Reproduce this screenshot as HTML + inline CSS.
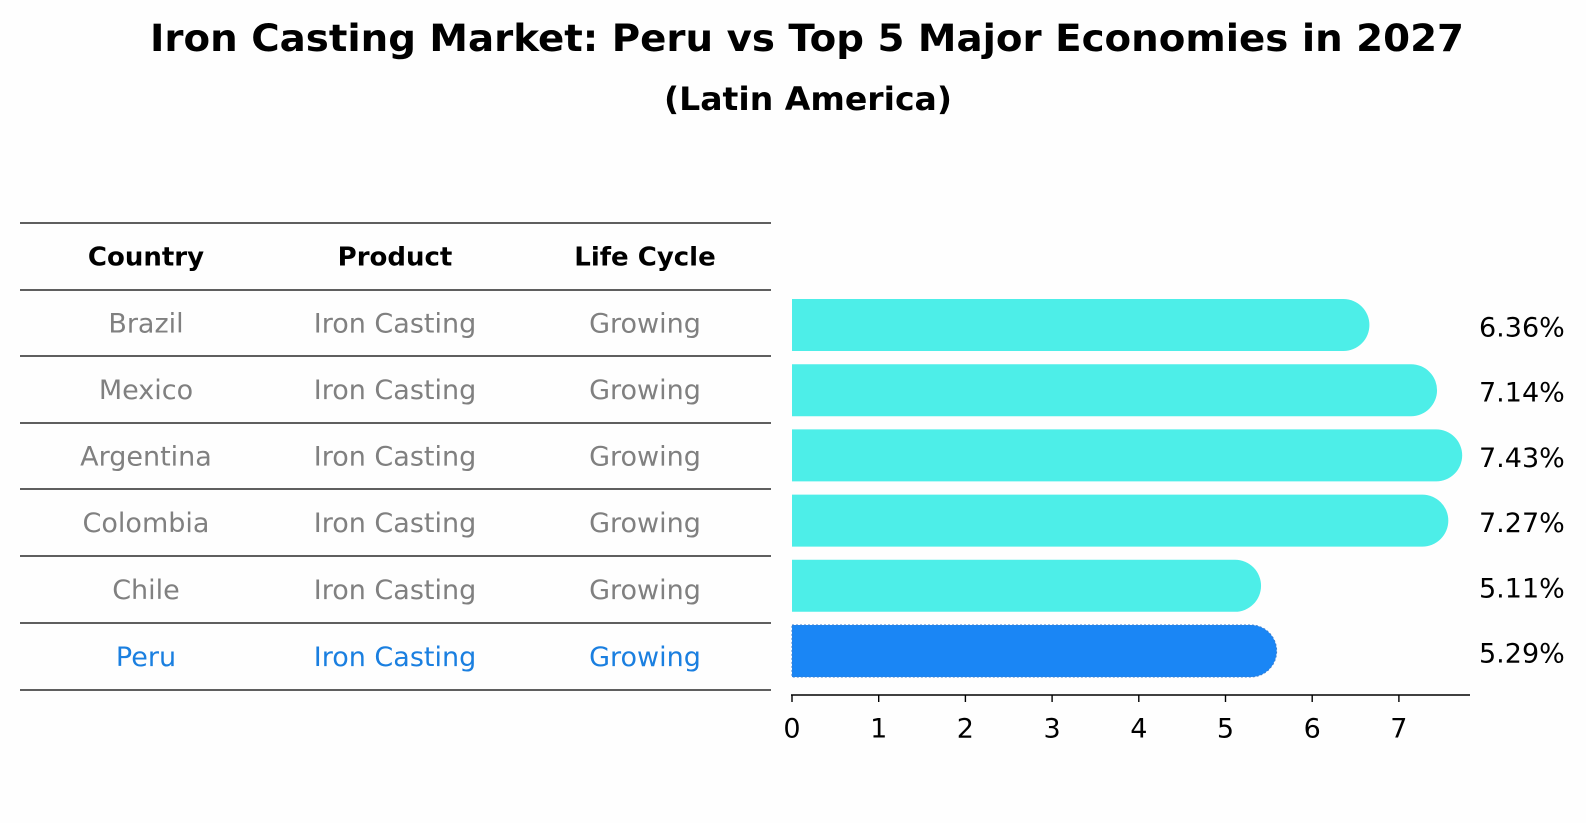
<!DOCTYPE html>
<html><head><meta charset="utf-8"><style>
html,body{margin:0;padding:0;background:#fff;}
svg{display:block;font-family:"DejaVu Sans","Liberation Sans",sans-serif;}
</style></head><body>
<svg id="chart" width="1586" height="823" viewBox="0 0 1586 823" xmlns="http://www.w3.org/2000/svg">
<rect width="1586" height="823" fill="#fefefe"/>
<text x="807" y="38" dy="0.35em" text-anchor="middle" font-size="37" font-weight="bold" fill="#000" textLength="1314" lengthAdjust="spacingAndGlyphs">Iron Casting Market: Peru vs Top 5 Major Economies in 2027</text>
<text x="808" y="99" dy="0.35em" text-anchor="middle" font-size="32" font-weight="bold" fill="#000" textLength="288" lengthAdjust="spacingAndGlyphs">(Latin America)</text>
<g id="table"></g>
<g id="bars"></g>
</svg>
<script>
const countries = ["Brazil","Mexico","Argentina","Colombia","Chile","Peru"];
const products = ["Iron Casting","Iron Casting","Iron Casting","Iron Casting","Iron Casting","Iron Casting"];
const lifeCycles = ["Growing","Growing","Growing","Growing","Growing","Growing"];
const values = [6.36,7.14,7.43,7.27,5.11,5.29];
const ticks = [0,1,2,3,4,5,6,7];
const highlight = "Peru";

const NS="http://www.w3.org/2000/svg";
function mk(tag, attrs, parent){const e=document.createElementNS(NS,tag);for(const k in attrs)e.setAttribute(k,attrs[k]);parent.appendChild(e);return e;}

const tbl=document.getElementById('table');
const lineYs=[223,290,356,423,489,556,623,690];
const colX=[146,395,645];
function rowY(i){return (lineYs[i+1]+lineYs[i+2])/2;}
lineYs.forEach((y,i)=>{
  const l=mk('line',{x1:20,x2:771,y1:y,y2:y,stroke:'#000','stroke-width':1.2},tbl);
  
  
});
["Country","Product","Life Cycle"].forEach((h,j)=>{
  const t=mk('text',{x:colX[j],y:(lineYs[0]+lineYs[1])/2,dy:'0.35em','text-anchor':'middle','font-size':26,'font-weight':'bold',fill:'#000'},tbl);
  t.textContent=h;
  
  
});
countries.forEach((c,i)=>{
  const col = c===highlight ? '#1a7fe0' : '#808080';
  [c,products[i],lifeCycles[i]].forEach((v,j)=>{
    const t=mk('text',{x:colX[j],y:rowY(i),dy:'0.35em','text-anchor':'middle','font-size':27,fill:col},tbl);
    t.textContent=v;
    
    
  });
});

const g=document.getElementById('bars');
const x0=792, unit=86.7, axisY=695, barH=52;
function xs(v){return x0+v*unit;}
function yc(i){return 325+i*65.2;}
values.forEach((v,i)=>{
  const isH=countries[i]===highlight;
  const fill=isH?'#1a86f5':'#4deee8';
  const r=barH/2, yTop=yc(i)-r, xe=xs(v);
  const d=`M${xs(0)},${yTop} L${xe},${yTop} A${r},${r} 0 0 1 ${xe},${yTop+barH} L${xs(0)},${yTop+barH} Z`;
  const p=mk('path',{d:d,fill:fill},g);
  if(isH){p.setAttribute('stroke','#3a7fd0');p.setAttribute('stroke-width','1');p.setAttribute('stroke-dasharray','2,2');}
  
  
  const t=mk('text',{x:1479,y:yc(i)+2,dy:'0.35em','font-size':27,fill:'#000'},g);
  t.textContent=v.toFixed(2)+'%';
  
  
});
const ax=mk('line',{x1:791,x2:1470,y1:axisY,y2:axisY,stroke:'#000','stroke-width':1.6},g);


ticks.forEach(tv=>{
  const l=mk('line',{x1:xs(tv),x2:xs(tv),y1:axisY,y2:axisY+7,stroke:'#000','stroke-width':1.4},g);
  
  
  const t=mk('text',{x:xs(tv),y:axisY+33,dy:'0.35em','text-anchor':'middle','font-size':27,fill:'#000'},g);
  t.textContent=tv;
  
  
});
</script>
</body></html>
